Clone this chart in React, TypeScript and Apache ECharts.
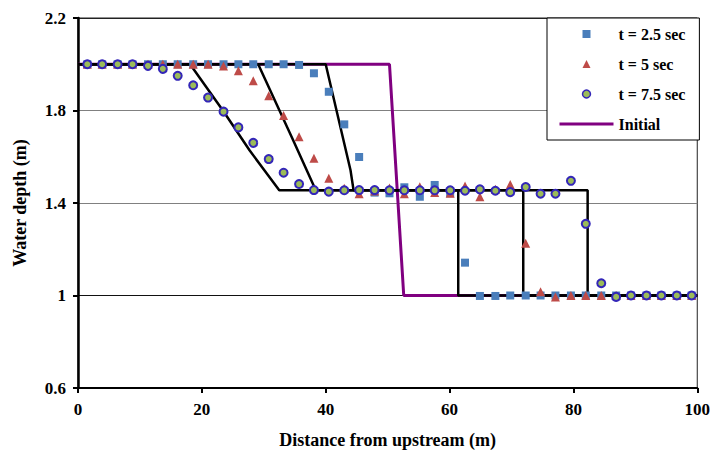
import React, { useEffect, useRef } from "react";
import * as echarts from "echarts";

// Distance from upstream (m) of the measured points
const xPoints = [1.5, 3.9, 6.4, 8.8, 11.3, 13.7, 16.1, 18.6, 21.0, 23.5, 25.9, 28.3, 30.8, 33.2, 35.7, 38.1, 40.5, 43.0, 45.4, 47.9, 50.3, 52.7, 55.2, 57.6, 60.1, 62.5, 64.9, 67.4, 69.8, 72.3, 74.7, 77.1, 79.6, 82.0, 84.5, 86.9, 89.3, 91.8, 94.2, 96.7, 99.1];

const depthT25 = [2.0, 2.0, 2.0, 2.0, 2.0, 2.0, 2.0, 2.0, 2.0, 2.0, 2.0, 2.0, 2.0, 2.0, 1.997, 1.961, 1.881, 1.740, 1.599, 1.445, 1.442, 1.468, 1.427, 1.478, 1.442, 1.142, 0.998, 0.998, 1.0, 1.0, 1.0, 1.0, 1.0, 1.0, 1.0, 1.0, 1.0, 1.0, 1.0, 1.0, 1.0];

const depthT5 = [2.0, 2.0, 2.0, 2.0, 2.0, 2.0, 2.0, 2.0, 2.0, 1.992, 1.972, 1.929, 1.864, 1.778, 1.687, 1.593, 1.507, 1.464, 1.44, 1.452, 1.465, 1.44, 1.47, 1.445, 1.442, 1.473, 1.427, 1.459, 1.48, 1.226, 1.016, 0.993, 1.0, 1.0, 1.0, 1.0, 1.0, 1.0, 1.0, 1.0, 1.0];

const depthT75 = [2.0, 2.0, 2.0, 2.0, 1.993, 1.98, 1.95, 1.909, 1.856, 1.795, 1.727, 1.66, 1.59, 1.531, 1.482, 1.456, 1.449, 1.455, 1.456, 1.456, 1.455, 1.455, 1.455, 1.455, 1.455, 1.453, 1.459, 1.453, 1.447, 1.469, 1.44, 1.44, 1.496, 1.31, 1.053, 0.994, 1.0, 1.0, 1.0, 1.0, 1.0];

// Initial condition
const initialX = [0, 50.3, 52.6, 100];
const initialY = [2.0, 2.0, 1.0, 1.0];

// Analytical solutions (black lines)
const exactT25X = [0, 40.0, 44.0, 44.5, 61.4, 61.4, 100];
const exactT25Y = [2.0, 2.0, 1.543, 1.455, 1.455, 1.0, 1.0];
const exactT5X = [0, 29.1, 34.6, 38.4, 71.9, 71.9, 100];
const exactT5Y = [2.0, 2.0, 1.68, 1.455, 1.455, 1.0, 1.0];
const exactT75X = [0, 18.1, 23.4, 27.7, 32.5, 82.3, 82.3, 100];
const exactT75Y = [2.0, 2.0, 1.80, 1.628, 1.455, 1.455, 1.0, 1.0];

const legendNames = ["t = 2.5 sec", "t = 5 sec", "t = 7.5 sec", "Initial"];

const zip = (xs: number[], ys: number[]) => xs.map((x, i) => [x, ys[i]]);

const FONT = "'Liberation Serif', 'Times New Roman', serif";

const SQUARE_ICON = "path://M0,0 L10,0 L10,10 L0,10 Z";
const TRIANGLE_ICON = "path://M5,0 L10,10 L0,10 Z";

export default function App() {
  const ref = useRef<HTMLDivElement>(null);
  useEffect(() => {
    if (!ref.current) return;
    const chart = echarts.init(ref.current, undefined, { renderer: "svg" });
    const exactLine = (name: string, xs: number[], ys: number[]) => ({
      name,
      type: "line",
      data: zip(xs, ys),
      symbol: "none",
      z: 3,
      lineStyle: { color: "#000", width: 2.5 },
    });
    chart.setOption({
      animation: false,
      backgroundColor: "#fff",
      textStyle: { fontFamily: FONT, color: "#000" },
      grid: {
        left: 78,
        right: 13,
        top: 18,
        bottom: 67,
        show: true,
        borderColor: "#222",
        borderWidth: 1,
      },
      legend: {
        data: [
          { name: legendNames[0], icon: SQUARE_ICON },
          { name: legendNames[1], icon: TRIANGLE_ICON },
          { name: legendNames[2], icon: "circle", itemStyle: { borderWidth: 1.5 } },
          {
            name: legendNames[3],
            itemStyle: { color: "rgba(0,0,0,0)", borderWidth: 0, opacity: 0 },
            lineStyle: { width: 3, color: "#800080" },
          },
        ],
        orient: "vertical",
        left: 547,
        top: 18,
        itemWidth: 54,
        itemHeight: 8,
        itemGap: 14,
        padding: [8, 14, 8, 11],
        backgroundColor: "#fff",
        borderColor: "#000",
        borderWidth: 1,
        borderRadius: 0,
        textStyle: {
          fontFamily: FONT,
          fontWeight: "bold",
          fontSize: 16,
          lineHeight: 16,
          color: "#000",
        },
      },
      xAxis: {
        type: "value",
        min: 0,
        max: 100,
        interval: 20,
        name: "Distance from upstream (m)",
        nameLocation: "middle",
        nameGap: 43,
        nameTextStyle: { fontFamily: FONT, fontWeight: "bold", fontSize: 18, color: "#000" },
        axisLine: { lineStyle: { color: "#000", width: 2 } },
        axisTick: { show: true, length: 5, lineStyle: { color: "#000", width: 2 } },
        axisLabel: { fontFamily: FONT, fontWeight: "bold", fontSize: 17, color: "#000", margin: 13 },
        splitLine: { show: false },
      },
      yAxis: {
        type: "value",
        min: 0.6,
        max: 2.2,
        interval: 0.4,
        name: "Water depth (m)",
        nameLocation: "middle",
        nameGap: 49,
        nameTextStyle: { fontFamily: FONT, fontWeight: "bold", fontSize: 18, color: "#000" },
        axisLine: { lineStyle: { color: "#000", width: 2.5 } },
        axisTick: { show: true, length: 5, lineStyle: { color: "#000", width: 2 } },
        axisLabel: { fontFamily: FONT, fontWeight: "bold", fontSize: 17, color: "#000", margin: 12 },
        splitLine: {
          show: true,
          lineStyle: { color: ["#000", "#111", "#808080", "#808080", "#222"], width: 1 },
        },
      },
      series: [
        {
          name: legendNames[3],
          type: "line",
          data: zip(initialX, initialY),
          symbol: "none",
          z: 2,
          lineStyle: { color: "#800080", width: 3 },
          itemStyle: { color: "#800080" },
        },
        exactLine("exact2.5", exactT25X, exactT25Y),
        exactLine("exact5", exactT5X, exactT5Y),
        exactLine("exact7.5", exactT75X, exactT75Y),
        {
          name: legendNames[0],
          type: "scatter",
          data: zip(xPoints, depthT25),
          symbol: "rect",
          symbolSize: 8,
          symbolKeepAspect: true,
          z: 5,
          itemStyle: { color: "#4A7EBB", opacity: 1 },
        },
        {
          name: legendNames[1],
          type: "scatter",
          data: zip(xPoints, depthT5),
          symbol: "triangle",
          symbolSize: 9,
          symbolKeepAspect: true,
          z: 6,
          itemStyle: { color: "#BE4B48", opacity: 1 },
        },
        {
          name: legendNames[2],
          type: "scatter",
          data: zip(xPoints, depthT75),
          symbol: "circle",
          symbolSize: 8,
          symbolKeepAspect: true,
          z: 7,
          itemStyle: { color: "#9BBB59", borderColor: "#3326B8", borderWidth: 2, opacity: 1 },
        },
      ],
    });
    return () => chart.dispose();
  }, []);
  return <div ref={ref} style={{ width: 713, height: 455, position: "absolute", left: 0, top: 0 }} />;
}
